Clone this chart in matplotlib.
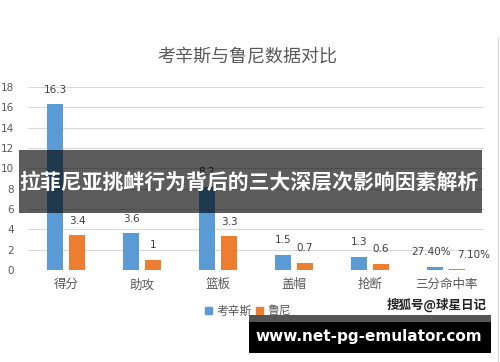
import matplotlib
matplotlib.use("Agg")
import matplotlib.pyplot as plt
from matplotlib.patches import Rectangle
from matplotlib.lines import Line2D
import numpy as np

plt.rcParams['font.family'] = ['Noto Sans CJK SC', 'DejaVu Sans']

categories = ['得分', '助攻', '篮板', '盖帽', '抢断', '三分命中率']
cousins = [16.3, 3.6, 8.2, 1.5, 1.3, 0.274]
rooney = [3.4, 1.0, 3.3, 0.7, 0.6, 0.071]
cousins_labels = ['16.3', '3.6', '8.2', '1.5', '1.3', '27.40%']
rooney_labels = ['3.4', '1', '3.3', '0.7', '0.6', '7.10%']
series_names = ['考辛斯', '鲁尼']
yticks = [0, 2, 4, 6, 8, 10, 12, 14, 16, 18]
title = '考辛斯与鲁尼数据对比'
banner_text = '拉菲尼亚挑衅行为背后的三大深层次影响因素解析'
watermark = '搜狐号@球星日记'
url_text = 'www.net-pg-emulator.com'

W, H = 500, 362
fig = plt.figure(figsize=(5, 3.62), dpi=100)
fig.patch.set_facecolor('white')

def fx(px):
    return px / W

def fy(py):
    return 1 - py / H

ax = fig.add_axes([fx(28), fy(270), fx(484) - fx(28), fy(87) - fy(270)])
x = np.arange(len(categories))
bw = 0.22
off = 0.145
blue = '#5b9bd5'
orange = '#ed7d31'
ax.bar(x - off, cousins, bw, color=blue, zorder=3)
ax.bar(x + off, rooney, bw, color=orange, zorder=3)
ax.set_xlim(-0.5, len(categories) - 0.5)
ax.set_ylim(0, 18)
ax.set_yticks(yticks)
ax.yaxis.grid(True, color='#d9d9d9', linewidth=0.8, zorder=0)
ax.set_axisbelow(True)
for s in ax.spines.values():
    s.set_visible(False)
ax.tick_params(axis='both', length=0, colors='#595959')
ax.tick_params(axis='y', labelsize=7.5, pad=10)
ax.set_yticklabels([str(v) for v in yticks], family=['DejaVu Sans'])
ax.set_xticks(x)
ax.set_xticklabels(categories, fontsize=9, color='#595959')
ax.tick_params(axis='x', pad=6)

n = len(categories)
for i in range(n):
    last = (i == n - 1)
    dx_c = -3 if last else 0
    dx_r = 12 if last else 0
    ax.annotate(cousins_labels[i], (x[i] - off, cousins[i]), xytext=(dx_c, 7),
                textcoords='offset points', ha='center', va='bottom',
                fontsize=7.5, color='#404040', family=['DejaVu Sans'])
    ax.annotate(rooney_labels[i], (x[i] + off, rooney[i]), xytext=(dx_r, 7),
                textcoords='offset points', ha='center', va='bottom',
                fontsize=7.5, color='#404040', family=['DejaVu Sans'])

fig.text(fx(247), fy(57), title, ha='center', va='center', fontsize=13,
         color='#595959')

handles = [Rectangle((0, 0), 1, 1, color=blue), Rectangle((0, 0), 1, 1, color=orange)]
fig.legend(handles, series_names, loc='center', bbox_to_anchor=(fx(248), fy(311)),
           ncol=2, frameon=False, fontsize=8.5, handlelength=0.6, handleheight=0.6,
           handletextpad=0.35, columnspacing=0.4, labelcolor='#595959')

# chart border on the right
fig.add_artist(Line2D([fx(497.5), fx(497.5)], [fy(38), 0], color='#d9d9d9', linewidth=1))

# watermark
fig.text(fx(437), fy(305), watermark, ha='center', va='center', fontsize=9,
         color='#222222', fontweight='bold')

# overlay banner
fig.add_artist(Rectangle((fx(19), fy(213)), fx(482) - fx(19), fy(150) - fy(213),
                         transform=fig.transFigure, color='black', alpha=0.64,
                         zorder=10, linewidth=0))
fig.text(fx(249), fy(182), banner_text, ha='center', va='center', fontsize=15,
         color='white', fontweight='bold', zorder=11)

# bottom url banner
fig.add_artist(Rectangle((fx(249), fy(353)), fx(491) - fx(249), fy(322) - fy(353),
                         transform=fig.transFigure, color='black', zorder=10, linewidth=0))
fig.add_artist(Rectangle((fx(249), fy(322)), fx(491) - fx(249), fy(315) - fy(322),
                         transform=fig.transFigure, color='#555555', zorder=10, linewidth=0))
fig.text(fx(369), fy(337), url_text, ha='center', va='center', fontsize=11,
         color='white', fontweight='bold', zorder=11, family=['DejaVu Sans'])

fig.savefig('out.png', dpi=100, facecolor='white')
